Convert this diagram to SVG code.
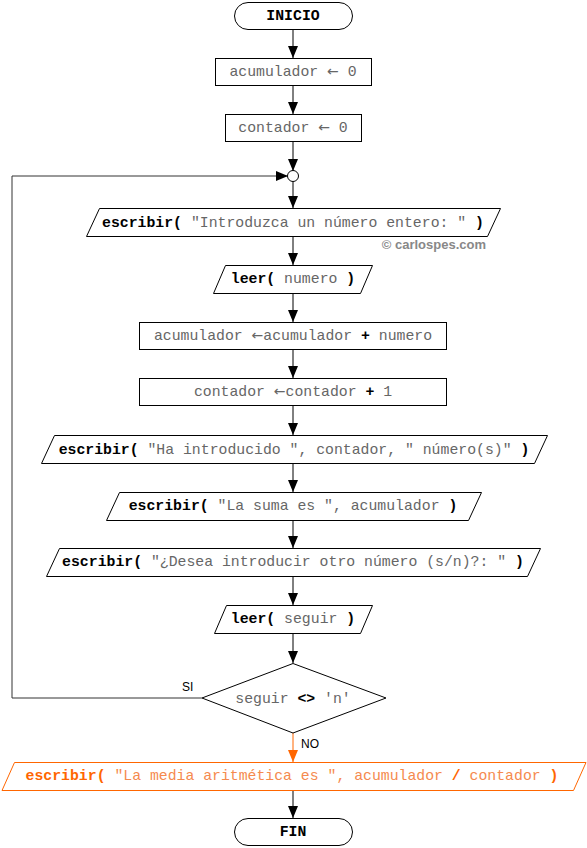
<svg xmlns="http://www.w3.org/2000/svg" width="587" height="848" viewBox="0 0 587 848">
<defs>
<marker id="ah" markerUnits="userSpaceOnUse" markerWidth="12" markerHeight="14" viewBox="0 0 12 14" refX="12" refY="5" orient="auto">
<path d="M0,0 L12,5 L0,10 Z" fill="#000"/>
</marker>
<marker id="aho" markerUnits="userSpaceOnUse" markerWidth="12" markerHeight="14" viewBox="0 0 12 14" refX="12" refY="5" orient="auto">
<path d="M0,0 L12,5 L0,10 Z" fill="#ff6600"/>
</marker>
<style>
.sh{fill:#fff;stroke:#000;stroke-width:1}
.sho{fill:#fff;stroke:#ff6600;stroke-width:1}
.t{font-family:"Liberation Mono","Courier New",monospace;font-size:14.8px;fill:#666;text-anchor:middle}
.b{font-weight:bold;fill:#000}
.ar{font-family:"DejaVu Sans",sans-serif;font-size:14px}
.to{fill:#f58a4e}
.bo{font-weight:bold;fill:#ff6600}
.c{stroke:#000;stroke-width:1;fill:none;marker-end:url(#ah)}
.co{stroke:#ff6600;stroke-width:1;fill:none;marker-end:url(#aho)}
.lbl{font-family:"Liberation Sans",Arial,sans-serif;font-size:12px;fill:#000}
</style>
</defs>
<g id="connectors">
<path class="c" d="M293,29 V58"/>
<path class="c" d="M293,86 V114"/>
<path class="c" d="M293,142 V171"/>
<path class="c" d="M293,181 V208"/>
<path class="c" d="M293,236 V265"/>
<path class="c" d="M293,293 V322"/>
<path class="c" d="M293,350 V378"/>
<path class="c" d="M293,406 V435"/>
<path class="c" d="M293,463 V492"/>
<path class="c" d="M293,520 V548"/>
<path class="c" d="M293,576 V605"/>
<path class="c" d="M293,633 V663"/>
<path class="c" d="M202,698 H12 V176 H288" style="stroke:#333"/>
<path class="co" d="M293,733 V762"/>
<path class="c" d="M293,790 V818"/>
<text class="lbl" x="182" y="691">SI</text>
<text class="lbl" x="301" y="748">NO</text>
</g>
<g id="inicio">
<rect class="sh" x="234.5" y="2.5" width="118" height="27" rx="13.5"/>
<text class="t" x="293" y="20"><tspan class="b">INICIO</tspan></text>
</g>
<g id="n1">
<rect class="sh" x="215.5" y="58.5" width="156" height="27"/>
<text class="t" x="293" y="76">acumulador <tspan class="ar">←</tspan> 0</text>
</g>
<g id="n2">
<rect class="sh" x="225.5" y="114.5" width="136" height="27"/>
<text class="t" x="293" y="132">contador <tspan class="ar">←</tspan> 0</text>
</g>
<g id="junction">
<circle cx="293" cy="176" r="5.5" fill="#fff" stroke="#000"/>
</g>
<g id="n3">
<polygon class="sh" points="99.5,208.5 500.5,208.5 487.5,236.5 86.5,236.5"/>
<text class="t" x="293" y="227"><tspan class="b">escribir(</tspan> "Introduzca un número entero: " <tspan class="b">)</tspan></text>
</g>
<text x="486" y="249" font-family="Liberation Sans,Arial,sans-serif" font-size="13" font-weight="bold" fill="#888" text-anchor="end">© carlospes.com</text>
<g id="n4">
<polygon class="sh" points="225.5,265.5 372.5,265.5 360.5,293.5 213.5,293.5"/>
<text class="t" x="293" y="283"><tspan class="b">leer(</tspan> numero <tspan class="b">)</tspan></text>
</g>
<g id="n5">
<rect class="sh" x="139.5" y="322.5" width="307" height="27"/>
<text class="t" x="293" y="340">acumulador <tspan class="ar">←</tspan>acumulador <tspan class="b">+</tspan> numero</text>
</g>
<g id="n6">
<rect class="sh" x="139.5" y="378.5" width="307" height="27"/>
<text class="t" x="293" y="396">contador <tspan class="ar">←</tspan>contador <tspan class="b">+</tspan> 1</text>
</g>
<g id="n7">
<polygon class="sh" points="54.5,435.5 547.5,435.5 534.5,463.5 41.5,463.5"/>
<text class="t" x="294" y="454"><tspan class="b">escribir(</tspan> "Ha introducido ", contador, " número(s)" <tspan class="b">)</tspan></text>
</g>
<g id="n8">
<polygon class="sh" points="119.5,492.5 481.5,492.5 468.5,520.5 106.5,520.5"/>
<text class="t" x="293" y="510"><tspan class="b">escribir(</tspan> "La suma es ", acumulador <tspan class="b">)</tspan></text>
</g>
<g id="n9">
<polygon class="sh" points="59.5,548.5 540.5,548.5 527.5,576.5 46.5,576.5"/>
<text class="t" x="293" y="566"><tspan class="b">escribir(</tspan> "¿Desea introducir otro número (s/n)?: " <tspan class="b">)</tspan></text>
</g>
<g id="n10">
<polygon class="sh" points="226.5,605.5 372.5,605.5 360.5,633.5 214.5,633.5"/>
<text class="t" x="293" y="623"><tspan class="b">leer(</tspan> seguir <tspan class="b">)</tspan></text>
</g>
<g id="decision">
<polygon class="sh" points="293,663.5 386,698 293,733 202,698"/>
<text class="t" x="293" y="703">seguir <tspan class="b">&lt;&gt;</tspan> 'n'</text>
</g>
<g id="n11">
<polygon class="sho" points="14.5,762.5 586,762.5 573.5,790.5 2,790.5"/>
<text class="t to" x="292" y="780"><tspan class="bo">escribir(</tspan> "La media aritmética es ", acumulador <tspan class="bo">/</tspan> contador <tspan class="bo">)</tspan></text>
</g>
<g id="fin">
<rect class="sh" x="234.5" y="818.5" width="118" height="27" rx="13.5"/>
<text class="t" x="293" y="836"><tspan class="b">FIN</tspan></text>
</g>
</svg>
